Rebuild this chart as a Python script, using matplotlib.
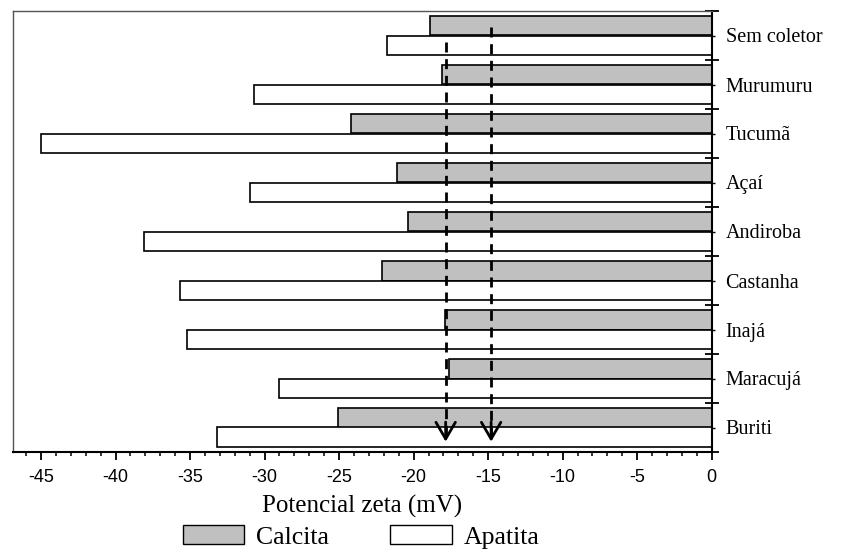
import matplotlib
matplotlib.use("Agg")
import matplotlib.pyplot as plt
import numpy as np
from matplotlib.patches import Patch
from matplotlib.ticker import MultipleLocator, FixedLocator

categories = ["Sem coletor", "Murumuru", "Tucumã", "Açaí", "Andiroba",
              "Castanha", "Inajá", "Maracujá", "Buriti"]
calcita = [-18.9, -18.1, -24.2, -21.1, -20.4, -22.1, -17.9, -17.6, -25.1]
apatita = [-21.8, -30.7, -45.0, -31.0, -38.1, -35.7, -35.2, -29.0, -33.2]
ref_lines = [-17.85, -14.8]
ref_starts = [0.13, -0.17]
arrow_tip = 8.29
xticks = [-45, -40, -35, -30, -25, -20, -15, -10, -5, 0]

serif = ["Liberation Serif", "DejaVu Serif"]
narrow = ["Liberation Sans Narrow", "Liberation Sans", "DejaVu Sans"]

fig = plt.figure(figsize=(8.47, 5.5), dpi=100)
ax = fig.add_axes([12.7 / 847, 1 - 452 / 550, (711.7 - 12.7) / 847, (452 - 11) / 550])

y = np.arange(len(categories))
h = 0.4
ax.barh(y - h / 2, calcita, height=h, color="#c0c0c0", edgecolor="black", linewidth=1.2, label="Calcita")
ax.barh(y + h / 2, apatita, height=h, color="white", edgecolor="black", linewidth=1.2, label="Apatita")

for xv, ys in zip(ref_lines, ref_starts):
    ax.plot([xv, xv], [ys, arrow_tip - 0.05], color="black", lw=2.0, dashes=(3.6, 2.4))
    ax.annotate("", xy=(xv, arrow_tip), xytext=(xv, arrow_tip - 0.4),
                arrowprops=dict(arrowstyle="->,head_length=1.2,head_width=0.7", lw=2.0, color="black",
                                shrinkA=0, shrinkB=0))

ax.set_xlim(-46.9, 0)
ax.set_ylim(len(categories) - 0.5, -0.5)

ax.yaxis.tick_right()
ax.yaxis.set_major_locator(FixedLocator(np.arange(-0.5, len(categories), 1.0)))
ax.yaxis.set_major_formatter(plt.NullFormatter())
ax.yaxis.set_minor_locator(FixedLocator(y))
ax.set_yticklabels(categories, minor=True, fontfamily=serif, fontsize=14.5)
ax.tick_params(axis="y", which="major", direction="inout", length=10, width=1.3, right=True, left=False)
ax.tick_params(axis="y", which="minor", direction="out", length=2, width=1.0, pad=8, right=True, left=False)

ax.xaxis.set_major_locator(FixedLocator(xticks))
ax.xaxis.set_minor_locator(MultipleLocator(1))
ax.set_xticklabels([str(t) for t in xticks], fontfamily=narrow, fontsize=13)
ax.tick_params(axis="x", which="major", direction="out", length=6, width=1.3, pad=6)
ax.tick_params(axis="x", which="minor", direction="out", length=3, width=1.1)

for s in ["left", "top"]:
    ax.spines[s].set_color("#555555")
    ax.spines[s].set_linewidth(1.0)
for s in ["right", "bottom"]:
    ax.spines[s].set_color("black")
    ax.spines[s].set_linewidth(1.5)

ax.set_xlabel("Potencial zeta (mV)", fontfamily=serif, fontsize=18, labelpad=7)

handles = [Patch(facecolor="#c0c0c0", edgecolor="black", label="Calcita"),
           Patch(facecolor="white", edgecolor="black", label="Apatita")]
fig.legend(handles=handles, loc="center", bbox_to_anchor=(361 / 847, 1 - 537 / 550), ncol=2,
           frameon=False, prop={"family": serif, "size": 18.5}, handlelength=2.4, handleheight=0.75,
           handletextpad=0.45, columnspacing=2.4, borderpad=0)

fig.savefig("out.png", dpi=100)
